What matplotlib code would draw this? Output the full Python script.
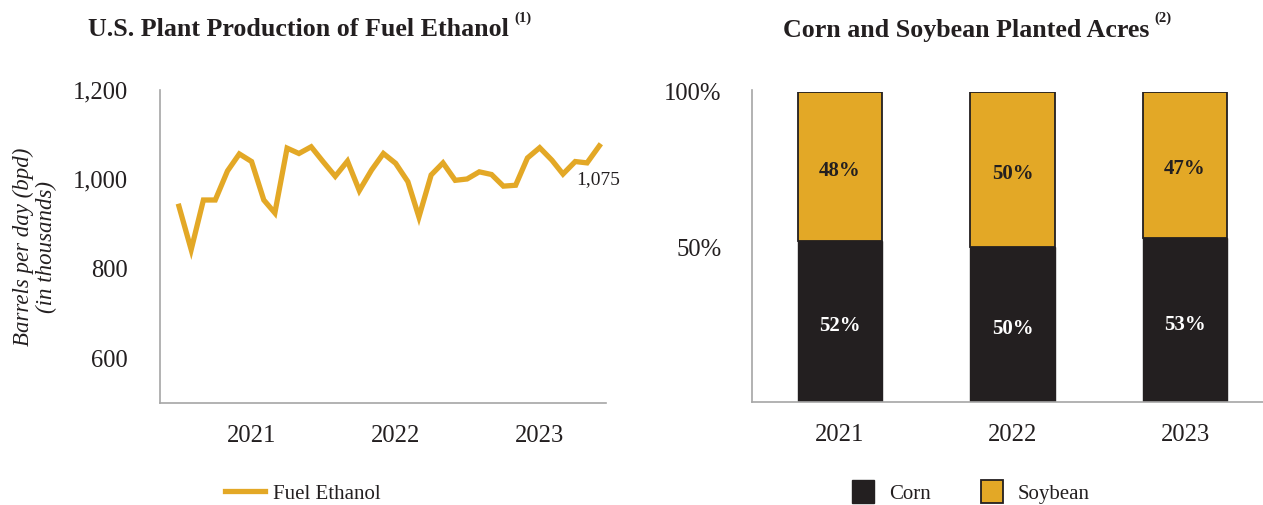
import matplotlib
matplotlib.use("Agg")
import matplotlib.pyplot as plt
import matplotlib.dates as mdates
from matplotlib.patches import Patch
import pandas as pd

plt.rcParams['font.family'] = ['Liberation Serif', 'DejaVu Serif']
plt.rcParams['text.color'] = '#231F20'

GOLD = '#E3A826'
DARK = '#231F20'
GRAY = '#A6A6A6'

# monthly fuel ethanol production, thousand bpd (Jul 2020 - Jun 2023)
months = pd.date_range('2020-07-01', periods=36, freq='MS')
ethanol = [940, 843, 954, 954, 1019, 1057, 1040, 954, 925, 1070, 1058, 1073,
           1040, 1007, 1041, 975, 1021, 1058, 1036, 995, 916, 1010, 1037, 998,
           1001, 1017, 1011, 985, 987, 1048, 1071, 1043, 1012, 1040, 1037, 1075]
ethanol_ticks = [600, 800, 1000, 1200]

# planted acres split
years = ['2021', '2022', '2023']
corn = [52, 50, 53]
soybean = [48, 50, 47]

fig = plt.figure(figsize=(12.63, 5.05), dpi=100)

# ---- left: fuel ethanol line
ax1 = fig.add_axes([160/1263, 1 - 403/505, 446/1263, 313/505])
ax1.plot(months, ethanol, color=GOLD, lw=3.8, solid_joinstyle='miter', clip_on=False)
ax1.set_ylim(500, 1200)
ax1.set_xlim(pd.Timestamp('2020-05-14'), pd.Timestamp('2023-06-18'))
ax1.set_yticks(ethanol_ticks)
ax1.set_yticklabels([f'{v:,}' for v in ethanol_ticks])
ax1.xaxis.set_major_locator(mdates.YearLocator())
ax1.xaxis.set_major_formatter(mdates.DateFormatter('%Y'))
ax1.tick_params(axis='y', length=0, pad=23, labelsize=17.7, labelcolor=DARK)
ax1.tick_params(axis='x', length=0, pad=16, labelsize=17.7, labelcolor=DARK)
for s in ['top', 'right']:
    ax1.spines[s].set_visible(False)
for s in ['left', 'bottom']:
    ax1.spines[s].set_color(GRAY)
    ax1.spines[s].set_linewidth(1.2)
ax1.annotate(f'{ethanol[-1]:,}', xy=(months[-1], ethanol[-1]), xytext=(-1, -24),
             textcoords='offset points', ha='center', va='center', fontsize=14)
ax1.legend(['Fuel Ethanol'], loc='center left', bbox_to_anchor=(225/1263, 1 - 494/505),
           bbox_transform=fig.transFigure, frameon=False, fontsize=15,
           handlelength=1.9, handletextpad=0.4, borderpad=0, borderaxespad=0)
fig.text(35/1263, 1 - 247/505, 'Barrels per day (bpd)\n(in thousands)', rotation=90,
         ha='center', va='center', fontsize=16.5, style='italic', multialignment='center',
         linespacing=1.1)

# ---- right: stacked bars
ax2 = fig.add_axes([752/1263, 1 - 402/505, 511/1263, 310/505])
x = range(len(years))
ax2.bar(x, corn, width=0.487, color=DARK, edgecolor=DARK, linewidth=1.0)
ax2.bar(x, soybean, bottom=corn, width=0.487, color=GOLD, edgecolor=DARK, linewidth=1.3)
for i in x:
    ax2.text(i, corn[i] / 2 - 1.5, f'{corn[i]}%', ha='center', va='center',
             color='white', fontsize=15, fontweight='bold')
    ax2.text(i, corn[i] + soybean[i] / 2 - 1.5, f'{soybean[i]}%', ha='center', va='center',
             color=DARK, fontsize=15, fontweight='bold')
ax2.set_xlim(-0.51, 2.452)
ax2.set_ylim(0, 100)
ax2.set_xticks(list(x))
ax2.set_xticklabels(years)
ax2.set_yticks([50, 100])
ax2.set_yticklabels(['50%', '100%'])
ax2.tick_params(axis='y', length=0, pad=22, labelsize=17.7, labelcolor=DARK)
ax2.tick_params(axis='x', length=0, pad=16, labelsize=17.7, labelcolor=DARK)
for s in ['top', 'right']:
    ax2.spines[s].set_visible(False)
for s in ['left', 'bottom']:
    ax2.spines[s].set_color(GRAY)
    ax2.spines[s].set_linewidth(1.2)
ax2.spines['left'].set_bounds(0, 100.6)
handles = [Patch(facecolor=DARK, edgecolor=DARK), Patch(facecolor=GOLD, edgecolor=DARK, linewidth=1.3)]
ax2.legend(handles, ['Corn', 'Soybean'], ncol=2, loc='center left',
           bbox_to_anchor=(852/1263, 1 - 492/505), bbox_transform=fig.transFigure,
           frameon=False, fontsize=15, handlelength=1.06, handleheight=1.25,
           handletextpad=0.72, columnspacing=2.4, borderpad=0, borderaxespad=0)

# ---- titles with superscript notes
t1 = fig.text(298/1263, 1 - 30/505, 'U.S. Plant Production of Fuel Ethanol',
              ha='center', va='center', fontsize=18.7, fontweight='bold')
t2 = fig.text(966/1263, 1 - 30/505, 'Corn and Soybean Planted Acres',
              ha='center', va='center', fontsize=18.7, fontweight='bold')
for t, note in [(t1, '(1)'), (t2, '(2)')]:
    ax1.annotate(note, xy=(1, 0.7), xycoords=t, xytext=(4, 0), textcoords='offset points',
                 ha='left', va='bottom', fontsize=10.5, fontweight='bold', annotation_clip=False)

fig.savefig('out.png', dpi=100)
